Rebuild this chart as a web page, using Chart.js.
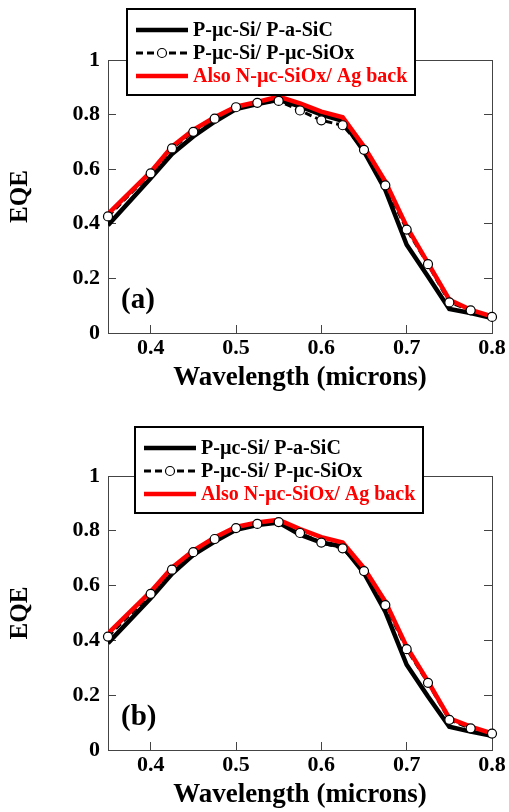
<!DOCTYPE html>
<html>
<head>
<meta charset="utf-8">
<title>EQE</title>
<script src="https://cdn.jsdelivr.net/npm/chart.js@4.4.0/dist/chart.umd.min.js"></script>
<style>
  html, body { margin: 0; padding: 0; background: #fff; }
  canvas { display: block; }
</style>
</head>
<body>
<canvas id="chartA" width="509" height="406"></canvas>
<canvas id="chartB" width="509" height="406"></canvas>
<script>
'use strict';

// wavelength in microns
var wavelength = [0.35, 0.4, 0.425, 0.45, 0.475, 0.5, 0.525, 0.55, 0.575, 0.6, 0.625, 0.65, 0.675, 0.7, 0.725, 0.75, 0.775, 0.8];

// panel (a)
var sicA   = [0.395, 0.567, 0.656, 0.720, 0.774, 0.820, 0.839, 0.854, 0.830, 0.800, 0.777, 0.665, 0.524, 0.323, 0.207, 0.088, 0.073, 0.055];
var sioxA  = [0.427, 0.585, 0.676, 0.737, 0.785, 0.827, 0.843, 0.850, 0.815, 0.779, 0.761, 0.671, 0.541, 0.379, 0.252, 0.112, 0.083, 0.059];
var agA    = [0.436, 0.590, 0.683, 0.744, 0.790, 0.829, 0.846, 0.866, 0.841, 0.811, 0.790, 0.683, 0.555, 0.390, 0.256, 0.122, 0.085, 0.061];

// panel (b)
var sicB   = [0.390, 0.554, 0.643, 0.712, 0.761, 0.804, 0.821, 0.830, 0.786, 0.757, 0.743, 0.646, 0.505, 0.311, 0.195, 0.085, 0.067, 0.052];
var sioxB  = [0.414, 0.570, 0.658, 0.722, 0.770, 0.810, 0.825, 0.832, 0.792, 0.757, 0.736, 0.653, 0.529, 0.368, 0.245, 0.110, 0.079, 0.060];
var agB    = [0.426, 0.578, 0.666, 0.728, 0.776, 0.814, 0.830, 0.840, 0.806, 0.777, 0.757, 0.664, 0.542, 0.377, 0.250, 0.116, 0.085, 0.061];

var seriesLabels = ['P-µc-Si/ P-a-SiC', 'P-µc-Si/ P-µc-SiOx', 'Also N-µc-SiOx/ Ag back'];
var xTicks = [0.4, 0.5, 0.6, 0.7, 0.8];
var yTicks = [0, 0.2, 0.4, 0.6, 0.8, 1];

var SERIF = '"Liberation Serif", "Times New Roman", serif';
var AXIS = '#444';

function pts(ys) {
    return wavelength.map(function(w, i) { return { x: w, y: ys[i] }; });
}

function noPad(s) {
    s.paddingLeft = 0;
    s.paddingRight = 0;
    s.paddingTop = 0;
    s.paddingBottom = 0;
}

// boxed legend over the top of the plot + the panel letter
var boxLegend = {
    id: 'boxLegend',
    afterDraw: function(chart, args, opts) {
        var ctx = chart.ctx, a = chart.chartArea;
        ctx.save();

        ctx.font = 'bold 29px ' + SERIF;
        ctx.fillStyle = '#000';
        ctx.textBaseline = 'middle';
        ctx.textAlign = 'left';
        ctx.fillText(opts.panel, a.left + 13, a.bottom - 32);

        var bx = a.left + opts.dx, by = a.top + opts.dy, bw = 288, bh = 86;
        ctx.fillStyle = '#fff';
        ctx.fillRect(bx, by, bw, bh);
        ctx.lineWidth = 2;
        ctx.strokeStyle = '#000';
        ctx.strokeRect(bx, by, bw, bh);

        var rows = [21, 44, 67];
        var styles = chart.data.datasets.filter(function(d) { return d.legendRow !== undefined; });
        styles.forEach(function(ds) {
            var y = by + rows[ds.legendRow];
            var x0 = bx + 9, x1 = bx + 61;
            ctx.beginPath();
            ctx.setLineDash(ds.borderDash || []);
            ctx.lineWidth = ds.borderWidth;
            ctx.strokeStyle = ds.borderColor;
            ctx.moveTo(x0, y);
            ctx.lineTo(x1, y);
            ctx.stroke();
            ctx.setLineDash([]);
            if (ds.legendMarker) {
                ctx.beginPath();
                ctx.arc((x0 + x1) / 2, y, 4.5, 0, Math.PI * 2);
                ctx.fillStyle = '#fff';
                ctx.fill();
                ctx.lineWidth = 1.2;
                ctx.strokeStyle = '#000';
                ctx.stroke();
            }
            ctx.font = 'bold 20px ' + SERIF;
            ctx.fillStyle = ds.textColor;
            ctx.textBaseline = 'middle';
            ctx.fillText(ds.label, bx + 66, y + 1);
        });
        ctx.restore();
    }
};

function makeChart(id, sic, siox, ag, cfg) {
    var ctx = document.getElementById(id).getContext('2d');
    return new Chart(ctx, {
        type: 'line',
        data: {
            datasets: [{
                label: 'markers',
                data: pts(siox),
                showLine: false,
                pointRadius: 4.5,
                pointBackgroundColor: '#fff',
                pointBorderColor: '#000',
                pointBorderWidth: 1.2,
                clip: false,
                order: 0
            }, {
                label: seriesLabels[2],
                legendRow: 2,
                textColor: '#ff0000',
                data: pts(ag),
                borderColor: '#ff0000',
                borderWidth: 4.5,
                pointRadius: 0,
                tension: 0,
                order: 1
            }, {
                label: seriesLabels[1],
                legendRow: 1,
                legendMarker: true,
                textColor: '#000',
                data: pts(siox),
                borderColor: '#000',
                borderWidth: 3,
                borderDash: [7, 4],
                pointRadius: 0,
                tension: 0,
                order: 2
            }, {
                label: seriesLabels[0],
                legendRow: 0,
                textColor: '#000',
                data: pts(sic),
                borderColor: '#000',
                borderWidth: 4.5,
                pointRadius: 0,
                tension: 0,
                order: 3
            }]
        },
        options: {
            responsive: false,
            animation: false,
            devicePixelRatio: 1,
            layout: { padding: { top: cfg.top, left: 0, right: 0, bottom: 0 } },
            plugins: {
                legend: { display: false },
                tooltip: { enabled: false },
                boxLegend: { panel: cfg.panel, dx: cfg.dx, dy: cfg.dy }
            },
            scales: {
                x: {
                    type: 'linear',
                    position: 'bottom',
                    min: 0.35,
                    max: 0.8,
                    afterBuildTicks: function(s) { s.ticks = xTicks.map(function(v) { return { value: v }; }); },
                    afterFit: function(s) { s.height = cfg.xh; noPad(s); },
                    grid: { drawOnChartArea: false, tickLength: -8, color: AXIS, lineWidth: 1 },
                    border: { color: AXIS, width: 1 },
                    ticks: {
                        padding: 10,
                        color: '#000',
                        font: { family: SERIF, size: 22, weight: 'bold' },
                        callback: function(v) { return String(v); }
                    },
                    title: {
                        display: true,
                        text: 'Wavelength (microns)',
                        color: '#000',
                        font: { family: SERIF, size: 27, weight: 'bold' },
                        padding: { top: 0, bottom: cfg.titlePad }
                    }
                },
                x2: {
                    type: 'linear',
                    position: 'top',
                    min: 0.35,
                    max: 0.8,
                    afterFit: function(s) { s.height = 0; noPad(s); },
                    grid: { display: false },
                    border: { color: AXIS, width: 1 },
                    ticks: { display: false }
                },
                y: {
                    position: 'left',
                    min: 0,
                    max: 1,
                    afterBuildTicks: function(s) { s.ticks = yTicks.map(function(v) { return { value: v }; }); },
                    afterFit: function(s) { s.width = 108; noPad(s); },
                    grid: { drawOnChartArea: false, tickLength: -8, color: AXIS, lineWidth: 1 },
                    border: { color: AXIS, width: 1 },
                    ticks: {
                        padding: 16,
                        color: '#000',
                        font: { family: SERIF, size: 22, weight: 'bold' },
                        callback: function(v) { return String(v); }
                    },
                    title: {
                        display: true,
                        text: 'EQE',
                        color: '#000',
                        font: { family: SERIF, size: 25, weight: 'bold' },
                        padding: { top: 6, bottom: 0 }
                    }
                },
                y2: {
                    position: 'right',
                    min: 0,
                    max: 1,
                    afterBuildTicks: function(s) { s.ticks = yTicks.map(function(v) { return { value: v }; }); },
                    afterFit: function(s) { s.width = 17; noPad(s); },
                    grid: { drawOnChartArea: false, tickLength: -8, color: AXIS, lineWidth: 1 },
                    border: { color: AXIS, width: 1 },
                    ticks: { display: false }
                }
            }
        },
        plugins: [boxLegend]
    });
}

makeChart('chartA', sicA, sioxA, agA, { panel: '(a)', top: 60, xh: 73, titlePad: 12, dx: 19, dy: -51 });
makeChart('chartB', sicB, sioxB, agB, { panel: '(b)', top: 70, xh: 62, titlePad: 1, dx: 27, dy: -49 });
</script>
</body>
</html>
